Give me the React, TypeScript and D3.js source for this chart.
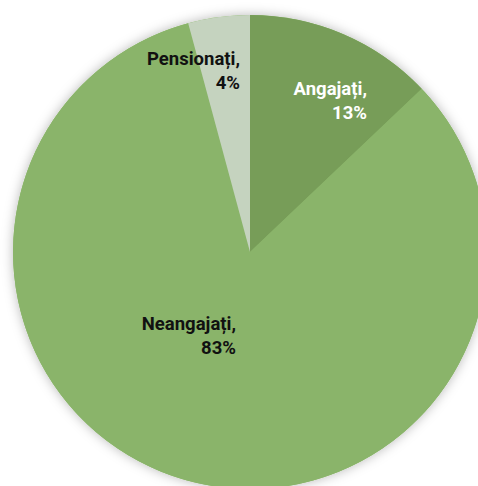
import React from "react";
import * as d3 from "d3";

const categories = ["Angajați", "Neangajați", "Pensionați"];
const values = [12.9, 82.9, 4.2];
const colors = ["#779d58", "#8ab46a", "#c5d3bf"];
const labelColors = ["#ffffff", "#111111", "#111111"];
const labelPos: [number, number][] = [
  [367, 95],
  [236, 330],
  [240, 65],
];

export default function App() {
  const W = 478;
  const H = 486;
  const cx = 250;
  const cy = 252;
  const r = 237;
  const pie = d3
    .pie<number>()
    .sort(null)
    .value((d) => d)
    .startAngle(0)
    .endAngle(2 * Math.PI);
  const arcs = pie(values);
  const arc = d3.arc<d3.PieArcDatum<number>>().innerRadius(0).outerRadius(r);
  return (
    <svg
      width={W}
      height={H}
      style={{ position: "absolute", left: 0, top: 0, display: "block" }}
    >
      <defs>
        <filter id="sh" x="-20%" y="-20%" width="140%" height="140%">
          <feDropShadow dx="0" dy="0" stdDeviation="6" floodColor="#000" floodOpacity="0.28" />
        </filter>
      </defs>
      <rect width={W} height={H} fill="#fff" />
      <g transform={`translate(${cx},${cy})`}>
        <circle r={r} fill="#8ab46a" filter="url(#sh)" />
        {arcs.map((a, i) => (
          <path key={i} d={arc(a) || ""} fill={colors[i]} />
        ))}
      </g>
      {arcs.map((a, i) => (
        <text
          key={"t" + i}
          x={labelPos[i][0]}
          y={labelPos[i][1]}
          textAnchor="end"
          fontFamily="Roboto, 'DejaVu Sans Condensed', sans-serif"
          fontWeight="bold"
          fontSize={18.5}
          fill={labelColors[i]}
        >
          <tspan x={labelPos[i][0]}>{categories[i]},</tspan>
          <tspan x={labelPos[i][0]} dy={24}>
            {Math.round(values[i])}%
          </tspan>
        </text>
      ))}
    </svg>
  );
}
